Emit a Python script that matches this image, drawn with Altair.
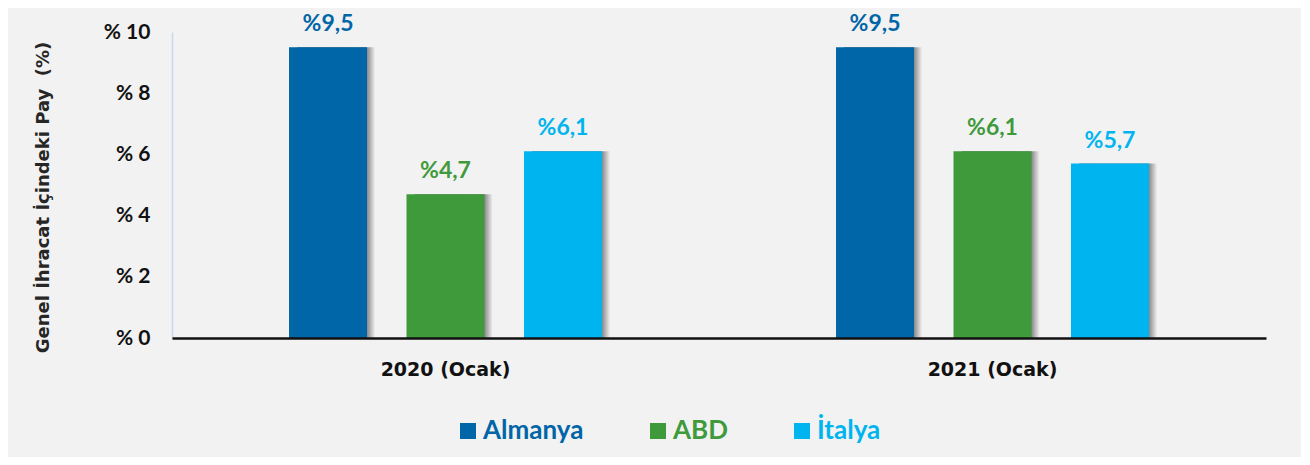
import altair as alt
import pandas as pd

# ---- data ----
periods = ["2020 (Ocak)", "2021 (Ocak)"]
countries = ["Almanya", "ABD", "İtalya"]
values_2020 = [9.5, 4.7, 6.1]
values_2021 = [9.5, 6.1, 5.7]
colors = ["#0066A7", "#3F9A3B", "#00B5EF"]
y_ticks = [0, 2, 4, 6, 8, 10]

rows = []
for p, vals in zip(periods, [values_2020, values_2021]):
    for c, v in zip(countries, vals):
        rows.append({"period": p, "country": c, "value": v})
df = pd.DataFrame(rows)

FONT = "Lato"
WIDE = "DejaVu Sans"
BG = "#F2F2F2"

label_color_expr = " : ".join(
    [f"datum.label == '{c}' ? '{col}'" for c, col in zip(countries[:-1], colors[:-1])]
) + f" : '{colors[-1]}'"

x_enc = alt.X(
    "period:N",
    sort=periods,
    scale=alt.Scale(paddingInner=0, paddingOuter=0),
    axis=alt.Axis(
        title=None,
        labelAngle=0,
        ticks=False,
        labelPadding=22,
        labelFont=WIDE,
        labelFontSize=19,
        labelFontWeight="bold",
        labelColor="#111111",
        domainColor="#111111",
        domainWidth=2.5,
        zindex=1,
    ),
)
xoff_enc = alt.XOffset(
    "country:N", sort=countries,
    scale=alt.Scale(type="band", paddingInner=0.336, paddingOuter=0.996),
)
# same offsets, shifted a few pixels to the right (for the shadow)
xoff_shadow = alt.XOffset(
    "country:N", sort=countries,
    scale=alt.Scale(type="band", paddingInner=0.336, paddingOuter=0.996, align=0.535),
)
y_enc = alt.Y(
    "value:Q",
    scale=alt.Scale(domain=[0, 10]),
    axis=alt.Axis(
        title="Genel İhracat İçindeki Pay \u00a0(%)",
        values=y_ticks,
        labelExpr="'% ' + datum.value",
        grid=False,
        ticks=False,
        labelPadding=22,
        labelFont=FONT,
        labelFontSize=21,
        labelFontWeight="bold",
        labelColor="#111111",
        domainColor="#C6D9F0",
        domainWidth=1.5,
        titleFont=WIDE,
        titleFontSize=18,
        titleFontWeight="bold",
        titleColor="#262626",
        titleX=-129,
        titleY=165,
        titleBaseline="middle",
        titleAlign="center",
        titleAngle=-90,
    ),
)

base = alt.Chart(df)

shadow = base.mark_bar(
    color=alt.LinearGradient(
        gradient="linear",
        x1=0, x2=1, y1=0, y2=0,
        stops=[
            alt.GradientStop(color="#6a6a6a", offset=0),
            alt.GradientStop(color="#7a7a7a", offset=0.88),
            alt.GradientStop(color=BG, offset=1),
        ],
    ),
).encode(x=x_enc, xOffset=xoff_shadow, y=y_enc)

bars = base.mark_bar().encode(
    x=x_enc,
    xOffset=xoff_enc,
    y=y_enc,
    color=alt.Color(
        "country:N",
        sort=countries,
        scale=alt.Scale(domain=countries, range=colors),
        legend=alt.Legend(
            title=None,
            orient="none",
            direction="horizontal",
            legendX=283,
            legendY=386,
            symbolType="square",
            symbolSize=256,
            symbolStrokeWidth=0,
            labelFont=FONT,
            labelFontSize=26,
            labelFontWeight="bold",
            labelOffset=2,
            columnPadding=61,
            labelColor={"expr": label_color_expr},
        ),
    ),
)

labels = base.mark_text(
    font=FONT, fontSize=23, fontWeight="bold", baseline="alphabetic", dy=-16
).transform_calculate(
    lbl="'%' + replace(format(datum.value, '.1f'), '.', ',')"
).encode(
    x=x_enc,
    xOffset=xoff_enc,
    y=y_enc,
    text="lbl:N",
    color=alt.Color("country:N", sort=countries,
                    scale=alt.Scale(domain=countries, range=colors), legend=None),
)

chart = (
    alt.layer(shadow, bars, labels)
    .resolve_scale(xOffset="independent")
    .properties(
        width=1094,
        height=306,
        autosize=alt.AutoSizeParams(type="none"),
        padding={"left": 164, "top": 24, "right": 35, "bottom": 119},
        background=BG,
    )
    .configure_view(stroke=None)
)

chart.save("out.html", embed_options={"renderer": "svg", "actions": False})
